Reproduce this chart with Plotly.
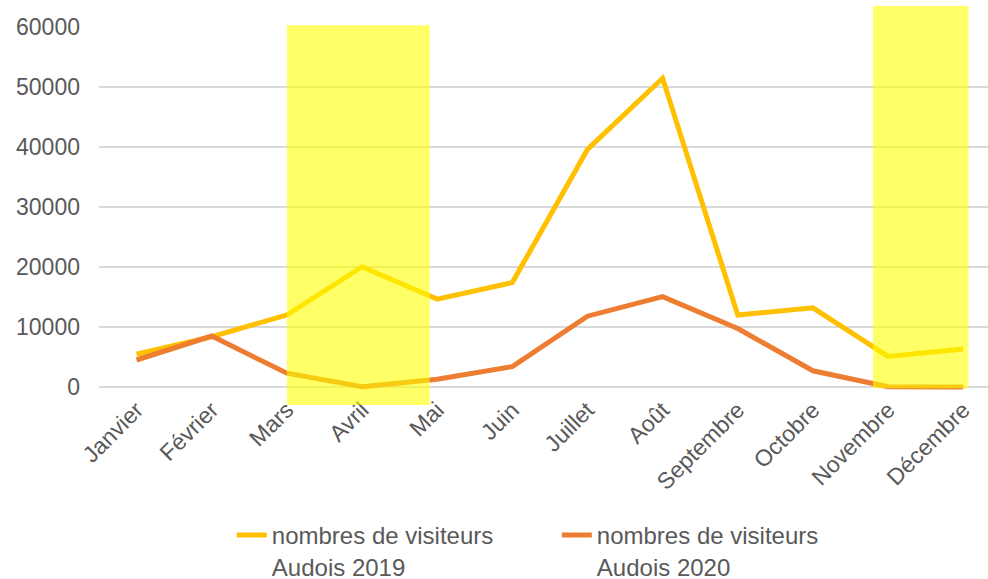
import plotly.graph_objects as go

months = ["Janvier", "Février", "Mars", "Avril", "Mai", "Juin", "Juillet",
          "Août", "Septembre", "Octobre", "Novembre", "Décembre"]
visitors_2019 = [5450, 8380, 12000, 20050, 14650, 17400, 39600, 51450,
                 12000, 13200, 5100, 6350]
visitors_2020 = [4500, 8500, 2300, 50, 1300, 3400, 11800, 15050,
                 9750, 2700, 50, 0]
series_names = ["nombres de visiteurs<br>Audois 2019",
                "nombres de visiteurs<br>Audois 2020"]
y_ticks = [0, 10000, 20000, 30000, 40000, 50000, 60000]

# highlighted periods (category index ranges, value ranges)
band_x0 = [2.0, 9.8]
band_x1 = [3.9, 11.07]
band_y0 = [-3000, -200]
band_y1 = [60300, 63500]

Y_MIN, Y_MAX = -667, 60000

def to_paper(v):
    return (v - Y_MIN) / (Y_MAX - Y_MIN)

fig = go.Figure()
fig.add_trace(go.Scatter(x=list(range(len(months))), y=visitors_2019,
                         mode="lines", name=series_names[0],
                         line=dict(color="#FFC000", width=5)))
fig.add_trace(go.Scatter(x=list(range(len(months))), y=visitors_2020,
                         mode="lines", name=series_names[1],
                         line=dict(color="#ED7D31", width=5)))

for x0, x1, y0, y1 in zip(band_x0, band_x1, band_y0, band_y1):
    fig.add_shape(type="rect", xref="x", yref="paper",
                  x0=x0, x1=x1, y0=to_paper(y0), y1=to_paper(y1),
                  fillcolor="#FFFF00", opacity=0.6, line_width=0,
                  layer="above")

font_family = "Liberation Sans, Arial, sans-serif"
fig.update_layout(
    width=988, height=579,
    margin=dict(l=99, r=0, t=27, b=188, autoexpand=False),
    plot_bgcolor="white", paper_bgcolor="white",
    font=dict(family=font_family, size=23, color="#595959"),
    showlegend=True,
    legend=dict(orientation="h", x=0.515, xanchor="center",
                y=-0.335, yanchor="top", valign="top",
                font=dict(size=24, color="#595959"),
                entrywidth=280, entrywidthmode="pixels"),
    xaxis=dict(range=[-0.5, 11.33], tickmode="array",
               tickvals=list(range(len(months))), ticktext=months,
               tickangle=-45, showgrid=False, zeroline=False,
               showline=False, ticks="", automargin=False,
               tickfont=dict(size=23, color="#595959")),
    yaxis=dict(range=[Y_MIN, Y_MAX], tickmode="array", tickvals=y_ticks,
               ticktext=[str(v) for v in y_ticks],
               showgrid=True, gridcolor="#D9D9D9", gridwidth=1.5,
               zeroline=False, showline=False, ticks="", automargin=False,
               ticklabelstandoff=18,
               tickfont=dict(size=23, color="#595959")),
)

fig.write_html("out.html",
               config={"displayModeBar": False},
               post_script="document.body.style.margin='0';"
                           "document.body.style.padding='0';")
